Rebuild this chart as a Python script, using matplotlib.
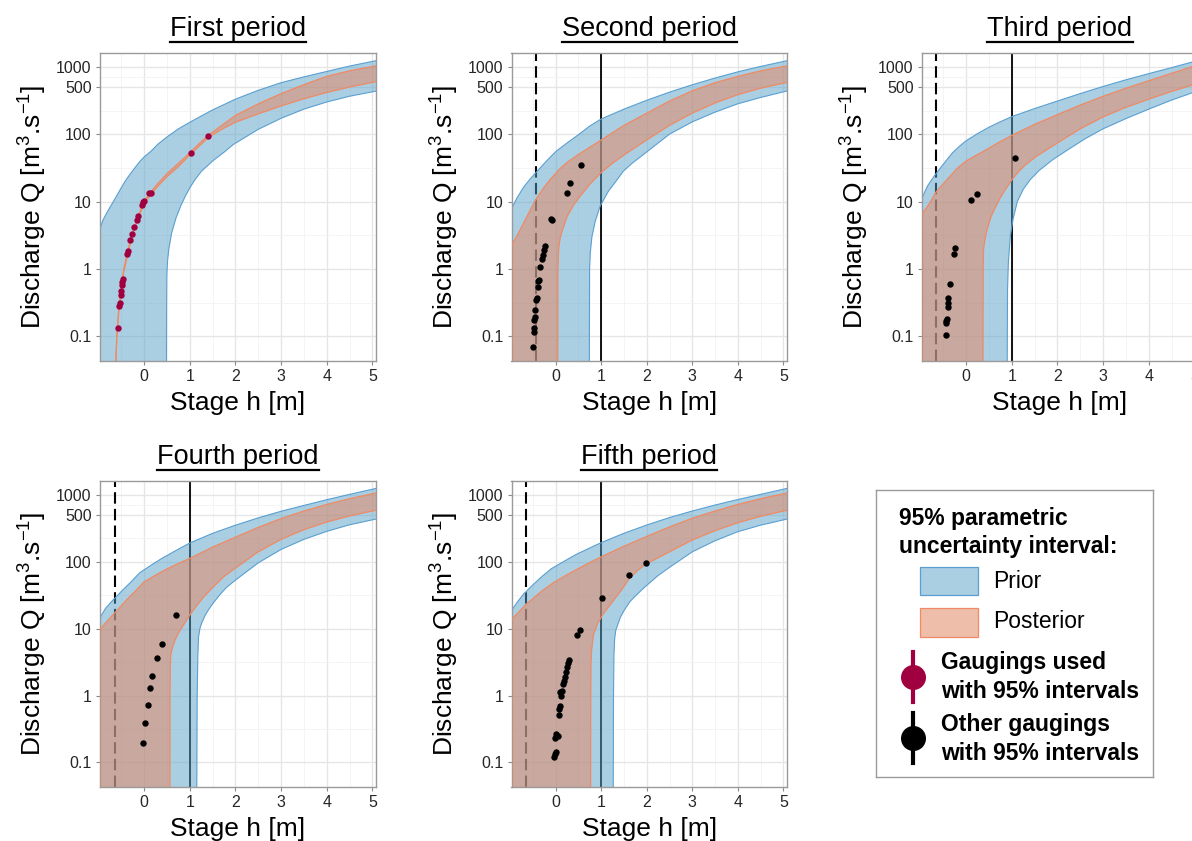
import matplotlib
matplotlib.use('Agg')
import matplotlib.pyplot as plt
import numpy as np
from matplotlib.lines import Line2D
from matplotlib.patches import Rectangle
from matplotlib.transforms import IdentityTransform
from matplotlib.ticker import NullFormatter

plt.rcParams['font.family'] = ['Liberation Sans', 'DejaVu Sans']
plt.rcParams['mathtext.fontset'] = 'custom'
plt.rcParams['mathtext.rm'] = 'Liberation Sans'
plt.rcParams['mathtext.it'] = 'Liberation Sans:italic'
plt.rcParams['mathtext.bf'] = 'Liberation Sans:bold'

titles = ['First period', 'Second period', 'Third period', 'Fourth period', 'Fifth period']

# ---- first period
p1_prior_up_h = [-0.97, -0.9, -0.8, -0.7, -0.6, -0.5, -0.4, -0.3, -0.2, -0.1, 0.0, 0.15, 0.3, 0.5, 0.75,
                 1.0, 1.25, 1.5, 1.75, 2.0, 2.5, 3.0, 3.5, 4.0, 4.5, 5.08]
p1_prior_up_q = [4.0, 5.4, 7.2, 9.4, 12.3, 16.2, 21, 26, 32, 39, 46, 56, 71, 91, 120,
                 150, 186, 229, 275, 331, 447, 580, 708, 851, 1023, 1230]
p1_prior_lo_h = [-0.97, 0.485, 0.49, 0.495, 0.51, 0.54, 0.6, 0.7, 0.8, 0.9, 1.0, 1.1, 1.25, 1.5, 1.75,
                 1.95, 2.5, 3.0, 3.5, 4.0, 4.5, 5.08]
p1_prior_lo_q = [0.01, 0.01, 0.3, 0.8, 1.3, 2.0, 3.4, 5.8, 8.6, 12, 16, 20.5, 28, 40, 54,
                 70, 118, 172, 235, 300, 365, 435]
p1_post_up_h = [-0.63, -0.6, -0.55, -0.45, -0.3, -0.15, 0.0, 0.25, 0.5, 0.75, 1.0, 1.2, 1.4, 1.7, 2.0,
                2.5, 3.0, 3.5, 4.0, 4.5, 5.08]
p1_post_up_q = [0.03, 0.11, 0.3, 1.0, 2.8, 5.8, 10.3, 17, 26, 37, 53, 72, 96, 135, 190,
                282, 400, 543, 720, 871, 1030]
p1_post_lo_h = [-0.63, -0.6, -0.55, -0.45, -0.3, -0.15, 0.0, 0.25, 0.5, 0.75, 1.0, 1.2, 1.4, 1.7, 2.0,
                2.5, 3.0, 3.5, 4.0, 4.5, 5.08]
p1_post_lo_q = [0.03, 0.10, 0.27, 0.9, 2.5, 5.3, 9.5, 15.5, 23.5, 33, 49, 66, 89, 118, 150,
                200, 262, 335, 415, 500, 600]
p1_gauge_h = [-0.584, -0.547, -0.533, -0.518, -0.511, -0.496, -0.48, -0.467, -0.387, -0.365, -0.314, -0.277,
              -0.219, -0.168, -0.131, -0.044, -0.022, 0.0, 0.11, 0.146, 1.02, 1.40]
p1_gauge_q = [0.135, 0.28, 0.31, 0.41, 0.47, 0.58, 0.63, 0.71, 1.69, 1.87, 2.67, 3.3,
              4.17, 5.3, 6.2, 8.75, 9.8, 10.3, 13.3, 13.3, 52, 94]

# ---- second period
p2_prior_up_h = [-0.97, -0.85, -0.7, -0.55, -0.4, -0.2, 0.0, 0.25, 0.5, 0.75, 1.0, 1.5, 2.0, 2.5, 3.0,
                 3.5, 4.0, 4.5, 5.08]
p2_prior_up_q = [7.8, 11.3, 16.5, 22, 28.5, 40, 55, 74, 98, 132, 168, 235, 318, 420, 540,
                 680, 840, 1010, 1230]
p2_prior_lo_h = [-0.97, 0.737, 0.745, 0.76, 0.796, 0.869, 0.978, 1.16, 1.3, 1.49, 1.7, 1.93, 2.5, 3.0,
                 3.5, 4.0, 4.5, 5.08]
p2_prior_lo_q = [0.01, 0.01, 1.0, 1.73, 3.0, 5.1, 8.6, 14.3, 19, 28.4, 38, 50, 100, 152,
                 212, 282, 350, 437]
p2_post_up_h = [-0.97, -0.8, -0.6, -0.42, -0.25, -0.1, 0.1, 0.25, 0.5, 0.75, 1.0, 1.5, 2.0, 2.5, 3.0,
                3.5, 4.0, 4.5, 5.08]
p2_post_up_q = [2.2, 3.6, 6.6, 11.2, 16.5, 22, 31, 38, 50, 64, 82, 135, 205, 310, 440,
                580, 718, 870, 1030]
p2_post_lo_h = [-0.97, 0.044, 0.05, 0.066, 0.1, 0.15, 0.25, 0.4, 0.55, 0.75, 1.0, 1.25, 1.5, 2.0, 2.5,
                3.0, 3.5, 4.0, 4.5, 5.08]
p2_post_lo_q = [0.01, 0.01, 1.0, 2.0, 2.9, 3.8, 6.0, 9.0, 12.3, 18, 27, 37, 49, 82, 135,
                205, 290, 385, 480, 585]
p2_gauge_h = [-0.496, -0.482, -0.467, -0.467, -0.453, -0.445, -0.423, -0.409, -0.387, -0.387, -0.372,
              -0.35, -0.3, -0.277, -0.248, -0.226, -0.102, -0.088, 0.248, 0.321, 0.555]
p2_gauge_q = [0.069, 0.114, 0.133, 0.172, 0.193, 0.248, 0.342, 0.37, 0.54, 0.66, 0.69,
              1.06, 1.42, 1.63, 1.9, 2.17, 5.5, 5.3, 13.5, 18.6, 34.4]
p2_dash = -0.43

# ---- third period
p3_prior_up_h = [-0.97, -0.85, -0.7, -0.5, -0.3, -0.15, 0.0, 0.25, 0.5, 0.75, 1.0, 1.5, 2.0, 2.5, 3.0,
                 3.5, 4.0, 4.5, 5.08]
p3_prior_up_q = [11.3, 17, 24, 36, 53, 66, 80, 102, 127, 153, 182, 240, 310, 400, 510,
                 640, 790, 970, 1240]
p3_prior_lo_h = [-0.97, 0.894, 0.905, 0.923, 0.967, 1.026, 1.12, 1.25, 1.4, 1.6, 1.9, 2.25, 2.6, 3.0,
                 3.5, 4.0, 4.5, 5.08]
p3_prior_lo_q = [0.01, 0.01, 0.5, 1.24, 3.1, 5.5, 10, 15.2, 21, 29, 42, 60, 85, 120,
                 170, 235, 320, 440]
p3_post_up_h = [-0.97, -0.8, -0.674, -0.55, -0.44, -0.2, 0.0, 0.25, 0.5, 0.75, 1.0, 1.5, 2.0, 2.5, 3.0,
                3.5, 4.0, 4.5, 5.08]
p3_post_up_q = [6.5, 9.5, 13.5, 17, 20.5, 31, 40, 50, 62, 78, 96, 140, 195, 270, 365,
                480, 620, 800, 1070]
p3_post_lo_h = [-0.97, 0.366, 0.37, 0.38, 0.41, 0.44, 0.5, 0.55, 0.65, 0.75, 0.85, 1.0, 1.15, 1.3, 1.5,
                1.75, 2.0, 2.5, 3.0, 3.5, 4.0, 4.5, 5.08]
p3_post_lo_q = [0.01, 0.01, 1.0, 1.96, 2.7, 3.47, 4.8, 6.1, 8.5, 11.5, 14.8, 21, 28, 35, 45,
                58, 74, 120, 180, 250, 330, 430, 570]
p3_gauge_h = [-0.454, -0.44, -0.44, -0.432, -0.41, -0.403, -0.396, -0.366, -0.264, -0.249, 0.095, 0.234, 1.062]
p3_gauge_q = [0.103, 0.156, 0.169, 0.183, 0.275, 0.316, 0.375, 0.605, 1.65, 2.03, 10.6, 12.9, 44.8]
p3_dash = -0.66

# ---- fourth period
p4_prior_up_h = [-0.97, -0.85, -0.7, -0.5, -0.3, -0.1, 0.1, 0.35, 0.6, 1.0, 1.5, 2.0, 2.5, 3.0, 3.5,
                 4.0, 4.5, 5.08]
p4_prior_up_q = [14.5, 20, 26, 36, 49, 68, 84, 108, 135, 190, 265, 350, 450, 565, 690,
                 840, 1010, 1240]
p4_prior_lo_h = [-0.97, 1.148, 1.16, 1.175, 1.19, 1.22, 1.255, 1.33, 1.4, 1.5, 1.657, 1.8, 2.0, 2.5, 3.0,
                 3.5, 4.0, 4.5, 5.08]
p4_prior_lo_q = [0.01, 0.01, 1.0, 4.0, 7.5, 10, 11.9, 15.5, 18.7, 23.5, 32, 41, 53, 96, 152,
                 215, 283, 355, 432]
p4_post_up_h = [-0.97, -0.8, -0.65, -0.5, -0.386, -0.2, 0.0, 0.25, 0.5, 0.75, 1.0, 1.5, 2.0, 2.5, 3.0,
                3.5, 4.0, 4.5, 5.08]
p4_post_up_q = [9.8, 13.2, 17.1, 22, 27, 36, 50, 63, 78, 94, 112, 165, 232, 325, 440,
                570, 715, 870, 1060]
p4_post_lo_h = [-0.97, 0.562, 0.565, 0.57, 0.58, 0.62, 0.67, 0.75, 0.85, 1.0, 1.15, 1.3, 1.5, 1.75, 2.0,
                2.5, 3.0, 3.5, 4.0, 4.5, 5.08]
p4_post_lo_q = [0.01, 0.01, 1.0, 2.5, 4.0, 5.2, 6.6, 8.6, 11, 16, 22, 29.5, 41, 60, 80,
                140, 215, 300, 390, 480, 585]
p4_gauge_h = [-0.022, 0.015, 0.073, 0.124, 0.175, 0.285, 0.394, 0.686]
p4_gauge_q = [0.196, 0.39, 0.71, 1.28, 1.98, 3.67, 5.9, 15.8]
p4_dash = -0.65

# ---- fifth period
p5_prior_up_h = [-0.97, -0.85, -0.7, -0.5, -0.3, -0.1, 0.15, 0.45, 0.75, 1.0, 1.5, 2.0, 2.5, 3.0, 3.5,
                 4.0, 4.5, 5.08]
p5_prior_up_q = [18.5, 24.5, 33, 45, 60, 78, 98, 128, 160, 192, 265, 352, 455, 570, 700,
                 845, 1010, 1240]
p5_prior_lo_h = [-0.97, 1.262, 1.27, 1.28, 1.295, 1.32, 1.416, 1.5, 1.635, 1.8, 1.927, 2.25, 2.5, 3.0,
                 3.5, 4.0, 4.5, 5.08]
p5_prior_lo_q = [0.01, 0.01, 1.0, 4.0, 7.0, 9.4, 14.5, 18.5, 25.5, 33, 40, 62, 82, 140,
                 205, 280, 350, 432]
p5_post_up_h = [-0.97, -0.8, -0.65, -0.5, -0.3, -0.05, 0.2, 0.47, 0.75, 1.0, 1.5, 2.0, 2.5, 3.0, 3.5,
                4.0, 4.5, 5.08]
p5_post_up_q = [13.6, 18, 23, 28, 36.5, 48.5, 61, 77, 97, 118, 170, 238, 330, 445, 570,
                715, 870, 1060]
p5_post_lo_h = [-0.97, 0.766, 0.77, 0.776, 0.79, 0.83, 0.92, 1.05, 1.27, 1.45, 1.61, 1.8, 1.985, 2.5,
                3.0, 3.5, 4.0, 4.5, 5.08]
p5_post_lo_q = [0.01, 0.01, 1.0, 3.0, 4.8, 8.0, 11.9, 16.8, 26.3, 38, 55, 74, 92, 140,
                210, 290, 380, 475, 585]
p5_gauge_h = [-0.029, -0.007, 0.007, -0.015, 0.007, 0.044, 0.066, 0.08, 0.102, 0.124, 0.088, 0.139,
              0.161, 0.182, 0.197, 0.219, 0.241, 0.263, 0.285, 0.467, 0.526, 1.022, 1.613, 1.985]
p5_gauge_q = [0.121, 0.136, 0.144, 0.232, 0.267, 0.251, 0.505, 0.627, 0.703, 0.99, 1.11, 1.15,
              1.49, 1.67, 1.91, 2.27, 2.63, 3.02, 3.39, 7.9, 9.4, 28.5, 64, 97]
p5_dash = -0.65

solid_h = 1.0

PRIOR_FILL = '#57a1c9'
PRIOR_ALPHA = 0.5
PRIOR_EDGE = '#5a9fd1'
POST_FILL = '#e18967'
POST_ALPHA = 0.55
POST_EDGE = '#f08a64'
USED = '#a0003f'

panels = [
    (p1_prior_up_h, p1_prior_up_q, p1_prior_lo_h, p1_prior_lo_q, p1_post_up_h, p1_post_up_q,
     p1_post_lo_h, p1_post_lo_q, p1_gauge_h, p1_gauge_q, None, USED),
    (p2_prior_up_h, p2_prior_up_q, p2_prior_lo_h, p2_prior_lo_q, p2_post_up_h, p2_post_up_q,
     p2_post_lo_h, p2_post_lo_q, p2_gauge_h, p2_gauge_q, p2_dash, 'black'),
    (p3_prior_up_h, p3_prior_up_q, p3_prior_lo_h, p3_prior_lo_q, p3_post_up_h, p3_post_up_q,
     p3_post_lo_h, p3_post_lo_q, p3_gauge_h, p3_gauge_q, p3_dash, 'black'),
    (p4_prior_up_h, p4_prior_up_q, p4_prior_lo_h, p4_prior_lo_q, p4_post_up_h, p4_post_up_q,
     p4_post_lo_h, p4_post_lo_q, p4_gauge_h, p4_gauge_q, p4_dash, 'black'),
    (p5_prior_up_h, p5_prior_up_q, p5_prior_lo_h, p5_prior_lo_q, p5_post_up_h, p5_post_up_q,
     p5_post_lo_h, p5_post_lo_q, p5_gauge_h, p5_gauge_q, p5_dash, 'black'),
]

W, H = 1192, 841
fig = plt.figure(figsize=(W / 100, H / 100), dpi=100)

# axes boxes in pixels: left, top, right, bottom (third one runs past the right edge)
boxes = [(100, 53, 376, 361), (511.5, 53, 787, 361), (922, 53, 1198, 361),
         (100, 481, 376, 787), (511.5, 481, 787, 787)]

axes = []
for i, (box, pn) in enumerate(zip(boxes, panels)):
    l, t, r, b = box
    ax = fig.add_axes([l / W, 1 - b / H, (r - l) / W, (b - t) / H])
    axes.append(ax)
    (pu_h, pu_q, pl_h, pl_q, qu_h, qu_q, ql_h, ql_q, gh, gq, dash, gcol) = pn
    ax.set_yscale('log')

    if dash is not None:
        ax.axvline(dash, color='black', lw=1.5, ls=(0, (5.5, 2.5)), zorder=1.5)
        ax.axvline(solid_h, color='black', lw=1.3, zorder=1.5)

    ax.fill(np.r_[pu_h, pl_h[::-1]], np.r_[pu_q, pl_q[::-1]], color=PRIOR_FILL, alpha=PRIOR_ALPHA,
            lw=0, zorder=2)
    ax.plot(pu_h, pu_q, color=PRIOR_EDGE, lw=0.8, zorder=2.1)
    ax.plot(pl_h, pl_q, color=PRIOR_EDGE, lw=0.8, zorder=2.1)

    ax.fill(np.r_[qu_h, ql_h[::-1]], np.r_[qu_q, ql_q[::-1]], color=POST_FILL, alpha=POST_ALPHA,
            lw=0, zorder=3)
    ax.plot(qu_h, qu_q, color=POST_EDGE, lw=0.9, zorder=3.1)
    ax.plot(ql_h, ql_q, color=POST_EDGE, lw=0.9, zorder=3.1)

    ax.plot(gh, gq, 'o', color=gcol, ms=4.6, mew=0, zorder=4)

    ax.set_xlim(-0.97, 5.08)
    ax.set_ylim(0.043, 1600)
    ax.set_xticks([0, 1, 2, 3, 4, 5])
    ax.set_xticks([-0.5, 0.5, 1.5, 2.5, 3.5, 4.5], minor=True)
    ax.set_yticks([0.1, 1, 10, 100, 500, 1000])
    ax.set_yticklabels(['0.1', '1', '10', '100', '500', '1000'])
    ax.set_yticks([10 ** -0.5, 10 ** 0.5, 10 ** 1.5, 10 ** 2.35, 10 ** 2.85], minor=True)
    ax.yaxis.set_minor_formatter(NullFormatter())
    ax.tick_params(which='major', length=3, width=0.8, color='#8a8a8a', labelsize=11.5,
                   labelcolor='#262626', pad=3)
    ax.tick_params(which='minor', length=0)
    ax.grid(which='major', color='#e6e6e6', lw=1.0)
    ax.grid(which='minor', color='#f3f3f3', lw=0.6)
    ax.set_axisbelow(True)
    for s in ax.spines.values():
        s.set_color('#9a9a9a')
        s.set_linewidth(1.0)

    ax.set_xlabel('Stage h [m]', fontsize=19, labelpad=4.5)
    ax.set_ylabel('Discharge Q [m$^3$.s$^{-1}$]', fontsize=19, labelpad=5)
    ax.set_title(titles[i], fontsize=19.5, pad=12.5)

# legend panel, drawn in picture pixel coordinates
lg = fig.add_axes([876 / W, 1 - 777 / H, 277 / W, 287 / H])
lg.set_xlim(876, 1153)
lg.set_ylim(777, 490)
lg.set_xticks([])
lg.set_yticks([])
for s in lg.spines.values():
    s.set_color('#9a9a9a')
    s.set_linewidth(1.0)
fs = 16.5
lg.text(899, 518, '95% parametric', fontsize=fs, fontweight='bold', va='center')
lg.text(899, 546, 'uncertainty interval:', fontsize=fs, fontweight='bold', va='center')
lg.add_patch(Rectangle((920, 567), 58, 28, facecolor=PRIOR_FILL, alpha=PRIOR_ALPHA, lw=0))
lg.add_patch(Rectangle((920, 567), 58, 28, facecolor='none', edgecolor=PRIOR_EDGE, lw=0.9))
lg.text(993, 581, 'Prior', fontsize=fs, va='center')
lg.add_patch(Rectangle((920, 608), 58, 29, facecolor=POST_FILL, alpha=POST_ALPHA, lw=0))
lg.add_patch(Rectangle((920, 608), 58, 29, facecolor='none', edgecolor=POST_EDGE, lw=0.9))
lg.text(993, 622, 'Posterior', fontsize=fs, va='center')
lg.plot([913, 913], [652, 702], color=USED, lw=3)
lg.plot([913], [677], 'o', color=USED, ms=18, mew=0)
lg.text(941, 662, 'Gaugings used', fontsize=fs, fontweight='bold', va='center')
lg.text(941, 692, 'with 95% intervals', fontsize=fs, fontweight='bold', va='center')
lg.plot([913, 913], [713, 763], color='black', lw=3)
lg.plot([913], [738], 'o', color='black', ms=18, mew=0)
lg.text(941, 724, 'Other gaugings', fontsize=fs, fontweight='bold', va='center')
lg.text(941, 754, 'with 95% intervals', fontsize=fs, fontweight='bold', va='center')

# underline the titles
fig.canvas.draw()
rend = fig.canvas.get_renderer()
for ax in axes:
    bb = ax.title.get_window_extent(rend)
    y = bb.y0 - 0.5
    fig.add_artist(Line2D([bb.x0, bb.x1], [y, y], transform=IdentityTransform(), color='black', lw=1.6))

fig.savefig('out.png', dpi=100)
